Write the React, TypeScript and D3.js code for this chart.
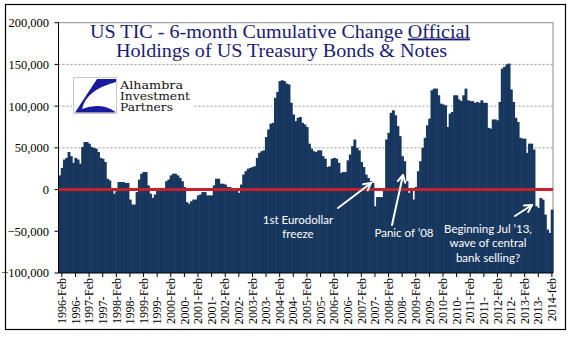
import React from 'react';
import * as d3 from 'd3';

// ---- DATA (thousands of USD millions, monthly, 6-month cumulative change) ----
const START_YEAR = 1996;
const MONTHS = ['Jan', 'Feb', 'Mar', 'Apr', 'May', 'Jun', 'Jul', 'Aug', 'Sep', 'Oct', 'Nov', 'Dec'];

const v1996 = [17, 26, 36, 38, 45, 40, 32, 38, 36, 31, 51, 57];
const v1997 = [57, 55, 51, 50, 49, 45, 38, 37, 33, 13, 11, 2];
const v1998 = [-5, -2, 9, 9, 9, 8, 8, -12, -18, -18, -3, 12];
const v1999 = [19, 21, 21, 5, -5, -10, -6, 1, 2, 2, 1, 10];
const v2000 = [12, 17, 19, 19, 17, 14, 10, 3, -15, -17, -14, -12];
const v2001 = [-12, -7, -6, -3, -3, -7, -7, -7, 5, 13, 13, 7];
const v2002 = [7, 6, 3, 3, 1, 0, -1, -4, 6, 18, 22, 25];
const v2003 = [26, 27, 28, 38, 44, 46, 47, 63, 72, 79, 80, 110];
const v2004 = [117, 130, 131, 130, 127, 126, 104, 90, 82, 86, 87, 80];
const v2005 = [78, 75, 55, 49, 46, 45, 47, 47, 40, 37, 27, 28];
const v2006 = [37, 38, 37, 32, 20, 21, 21, 35, 42, 52, 60, 50];
const v2007 = [47, 33, 27, 18, 14, 10, 8, -20, -9, -9, -9, 2];
const v2008 = [60, 68, 92, 95, 89, 76, 64, 40, 34, 10, -4, 2];
const v2009 = [-12, 3, 22, 34, 50, 62, 77, 85, 119, 121, 121, 113];
const v2010 = [103, 102, 101, 75, 91, 93, 113, 113, 108, 106, 113, 121];
const v2011 = [107, 106, 106, 104, 105, 104, 107, 104, 104, 74, 73, 84];
const v2012 = [84, 83, 105, 145, 147, 150, 151, 120, 105, 86, 81, 62];
const v2013 = [61, 61, 44, 55, 55, 48, -20, -22, -10, -12, -30, -48];
const v2014 = [-52, -24];

const valuesK = [
  ...v1996, ...v1997, ...v1998, ...v1999, ...v2000, ...v2001, ...v2002,
  ...v2003, ...v2004, ...v2005, ...v2006, ...v2007, ...v2008, ...v2009,
  ...v2010, ...v2011, ...v2012, ...v2013, ...v2014,
];

const categories = valuesK.map(
  (_, i) => `${START_YEAR + Math.floor(i / 12)}-${MONTHS[i % 12]}`
);

const xTickLabels = [
  '1996-Feb', '1996-', '1997-Feb', '1997-', '1998-Feb', '1998-', '1999-Feb', '1999-',
  '2000-Feb', '2000-', '2001-Feb', '2001-', '2002-Feb', '2002-', '2003-Feb', '2003-',
  '2004-Feb', '2004-', '2005-Feb', '2005-', '2006-Feb', '2006-', '2007-Feb', '2007-',
  '2008-Feb', '2008-', '2009-Feb', '2009-', '2010-Feb', '2010-', '2011-Feb', '2011-',
  '2012-Feb', '2012-', '2013-Feb', '2013-', '2014-feb',
];

const yTicks = [-100000, -50000, 0, 50000, 100000, 150000, 200000];

const TITLE_1 = 'US TIC - 6-month Cumulative Change ';
const TITLE_1U = 'Official';
const TITLE_2 = 'Holdings of US Treasury Bonds & Notes';

const LOGO_LINES = ['Alhambra', 'Investment', 'Partners'];
const LOGO_WIDTHS = [63, 70, 53];

const annotations = [
  { lines: ['1st Eurodollar', 'freeze'], x: 298, y: 224, arrow: [338, 208, 371, 183] },
  { lines: ['Panic of \u201908'], x: 404, y: 237, arrow: [392, 225, 403, 175] },
  { lines: ['Beginning Jul \u201913,', 'wave of central', 'bank selling?'], x: 488, y: 233, arrow: [515, 216, 532, 205] },
];

// ---- LAYOUT ----
const W = 577;
const H = 341;
const PL = 58.5;
const PR = 553;
const PT = 22.7;
const PB = 273;
const BAR = '#17375E';

function Arrow({ a }: { a: number[] }) {
  const [x1, y1, x2, y2] = a;
  const ang = Math.atan2(y2 - y1, x2 - x1);
  const L = 8;
  const h1 = [x2 - L * Math.cos(ang - 0.5), y2 - L * Math.sin(ang - 0.5)];
  const h2 = [x2 - L * Math.cos(ang + 0.5), y2 - L * Math.sin(ang + 0.5)];
  return (
    <g stroke="#fff" strokeWidth={2} fill="none" strokeLinecap="round" strokeLinejoin="round">
      <line x1={x1} y1={y1} x2={x2} y2={y2} />
      <polyline points={`${h1[0]},${h1[1]} ${x2},${y2} ${h2[0]},${h2[1]}`} />
    </g>
  );
}

export default function App() {
  const x = d3.scaleBand<number>().domain(valuesK.map((_, i) => i)).range([PL, PR]).padding(0);
  const y = d3.scaleLinear().domain([-100000, 200000]).range([PB, PT]);
  const bw = x.bandwidth();
  const fmt = d3.format(',');

  return (
    <svg width={W} height={H} style={{ position: 'absolute', left: 0, top: 0, background: '#fff' }}>
      <rect x={0} y={0} width={W} height={H} fill="#fff" />
      {/* outer border */}
      <rect x={5.5} y={4.5} width={560} height={325} fill="none" stroke="#000" strokeWidth={1.2} />

      {/* gridlines */}
      {yTicks.filter((t) => t > 0 && t < 200000).map((t) => (
        <line key={t} x1={PL} x2={PR} y1={y(t)} y2={y(t)} stroke="#9a9a9a" strokeWidth={1} strokeDasharray="2,2" />
      ))}
      <line x1={PL} x2={PR} y1={y(200000)} y2={y(200000)} stroke="#8c8c8c" strokeWidth={1} />
      <line x1={PR} x2={PR} y1={PT} y2={PB} stroke="#8c8c8c" strokeWidth={1} />

      {/* bars */}
      {valuesK.map((v, i) => (
        <rect
          key={categories[i]}
          x={x(i)!}
          y={y(v * 1000)}
          width={bw + 0.6}
          height={y(-100000) - y(v * 1000)}
          fill={BAR}
        />
      ))}

      {/* zero line */}
      <line x1={PL} x2={PR} y1={y(0)} y2={y(0)} stroke="#C4232B" strokeWidth={3} />

      {/* axes */}
      <line x1={PL} x2={PL} y1={PT} y2={PB} stroke="#000" strokeWidth={1} />
      <line x1={PL} x2={PR} y1={PB} y2={PB} stroke="#000" strokeWidth={1} />
      {yTicks.map((t) => (
        <g key={t}>
          <line x1={PL - 4} x2={PL} y1={y(t)} y2={y(t)} stroke="#000" />
          <text
            x={49}
            y={y(t)}
            dy="0.35em"
            textAnchor="end"
            fontFamily="'Liberation Serif', serif"
            fontSize={12.5}
            fill="#000"
          >
            {fmt(t)}
          </text>
        </g>
      ))}
      {xTickLabels.map((lab, k) => {
        const i = 1 + 6 * k;
        const cx = x(i)! + bw / 2;
        const isFeb = k % 2 === 0;
        return (
          <g key={lab + k}>
            <line x1={cx} x2={cx} y1={PB} y2={PB + 4} stroke="#000" />
            <text
              transform={`translate(${cx},${isFeb ? 278 : 324.5}) rotate(-90)`}
              dy="0.35em"
              textAnchor={isFeb ? 'end' : 'start'}
              fontFamily="'Liberation Serif', serif"
              fontSize={12}
              fill="#000"
            >
              {lab}
            </text>
          </g>
        );
      })}

      {/* annotations */}
      {annotations.map((a, k) => (
        <g key={k}>
          <text
            x={a.x}
            y={a.y}
            textAnchor="middle"
            fontFamily="Lato, 'Open Sans', sans-serif"
            fontSize={11.5}
            fill="#fff"
          >
            {a.lines.map((l, j) => (
              <tspan key={j} x={a.x} dy={j === 0 ? 0 : 14.3}>{l}</tspan>
            ))}
          </text>
          <Arrow a={a.arrow} />
        </g>
      ))}

      {/* title */}
      <text
        x={280}
        y={37.5}
        textAnchor="middle"
        fontFamily="'Liberation Serif', serif"
        fontSize={19}
        fill="#1b1b72"
        textLength={380}
        lengthAdjust="spacingAndGlyphs"
      >
        {TITLE_1}
        <tspan textDecoration="underline" style={{ textDecoration: 'underline' }}>{TITLE_1U}</tspan>
      </text>
      <text
        x={281.5}
        y={57}
        textAnchor="middle"
        fontFamily="'Liberation Serif', serif"
        fontSize={19}
        fill="#1b1b72"
        textLength={331}
        lengthAdjust="spacingAndGlyphs"
      >
        {TITLE_2}
      </text>

      {/* logo */}
      <rect x={72} y={75} width={121} height={42} fill="#fff" />
      <rect x={73.5} y={77.5} width={43} height={36} fill="#fff" stroke="#c8c8c8" strokeWidth={1} />
      <path
        d="M97,79 L116,79 L116,82 Q 86,90 82,109 Q 100,102 115,111.5 L115,112.5 L75,112.5 Z"
        fill="#1a1a9c"
      />
      <g fontFamily="'DejaVu Serif', serif" fontSize={10.5} fill="#111">
        {LOGO_LINES.map((l, j) => (
          <text key={l} x={120} y={89 + j * 11} textLength={LOGO_WIDTHS[j]} lengthAdjust="spacingAndGlyphs">
            {l}
          </text>
        ))}
      </g>
    </svg>
  );
}
